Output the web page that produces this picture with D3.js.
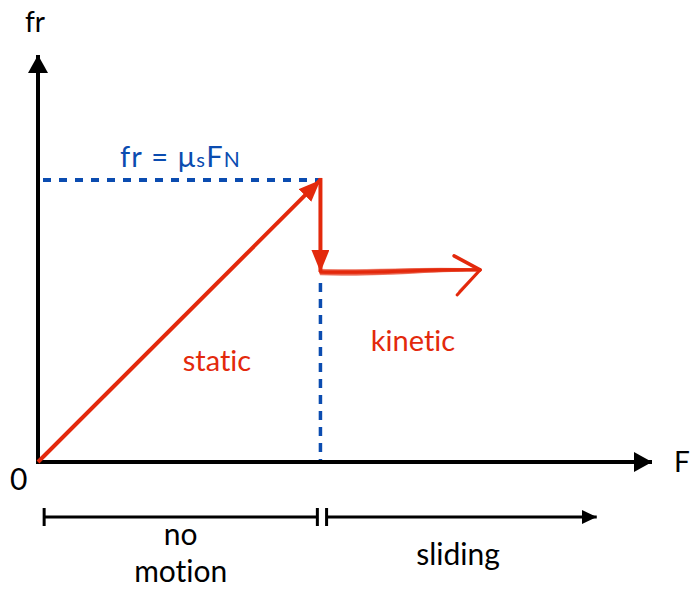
<!DOCTYPE html>
<html>
<head>
<meta charset="utf-8">
<script src="https://cdn.jsdelivr.net/npm/d3@7"></script>
<style>
  html, body { margin: 0; padding: 0; background: #fff; }
  svg { display: block; }
  text { font-family: Lato, "Open Sans", sans-serif; font-variant-ligatures: none; font-feature-settings: "liga" 0, "clig" 0; }
</style>
</head>
<body>
<script>
// ---- data (arbitrary units) ----
const axisMax = { F: 10, fr: 10 };
const staticLine = [[0, 0], [4.6, 6.93]];          // fr = F until the static limit
const staticLimit = [4.6, 6.93];                     // fr = mu_s * F_N
const kineticLevel = [[4.6, 4.67], [7.2, 4.72]];     // kinetic friction (sliding)
const ranges = [
  { label: ["no", "motion"], from: 0.1, to: 4.55 },
  { label: ["sliding"], from: 4.7, to: 9.1 }
];
const labels = {
  yAxis: "fr", xAxis: "F", origin: "0",
  staticText: "static", kineticText: "kinetic"
};

const W = 691, H = 591;
const red = "#e3290c", blue = "#0b4cb0";

const x = d3.scaleLinear().domain([0, axisMax.F]).range([38, 652]);
const y = d3.scaleLinear().domain([0, axisMax.fr]).range([462, 55]);

const svg = d3.select("body").append("svg").attr("width", W).attr("height", H);
const defs = svg.append("defs");
function marker(id, color, w, h) {
  defs.append("marker").attr("id", id)
    .attr("viewBox", `0 0 ${w} ${h}`).attr("refX", w).attr("refY", h / 2)
    .attr("markerWidth", w).attr("markerHeight", h).attr("markerUnits", "userSpaceOnUse")
    .attr("orient", "auto")
    .append("path").attr("d", `M0,0L${w},${h/2}L0,${h}Z`).attr("fill", color);
}
marker("axArrow", "#000", 18, 20);
marker("redArrow", red, 22, 18);
marker("rangeArrow", "#000", 15, 14);

// axes
svg.append("line").attr("x1", x(0)).attr("y1", y(0)).attr("x2", x(0)).attr("y2", y(axisMax.fr))
  .attr("stroke", "#000").attr("stroke-width", 4).attr("marker-end", "url(#axArrow)");
svg.append("line").attr("x1", x(0) - 2).attr("y1", y(0)).attr("x2", x(axisMax.F)).attr("y2", y(0))
  .attr("stroke", "#000").attr("stroke-width", 4).attr("marker-end", "url(#axArrow)");

// blue dashed guides
svg.append("line").attr("x1", x(0) + 5).attr("y1", y(staticLimit[1])).attr("x2", x(staticLimit[0])).attr("y2", y(staticLimit[1]))
  .attr("stroke", blue).attr("stroke-width", 4).attr("stroke-dasharray", "8,8");
svg.append("line").attr("x1", x(staticLimit[0])).attr("y1", y(kineticLevel[0][1]) + 11)
  .attr("x2", x(staticLimit[0])).attr("y2", y(0) - 2)
  .attr("stroke", blue).attr("stroke-width", 3.5).attr("stroke-dasharray", "9,7");

// static red line
svg.append("line").attr("x1", x(staticLine[0][0])).attr("y1", y(staticLine[0][1]))
  .attr("x2", x(staticLine[1][0])).attr("y2", y(staticLine[1][1]))
  .attr("stroke", red).attr("stroke-width", 4).attr("marker-end", "url(#redArrow)");
// drop arrow
svg.append("line").attr("x1", x(staticLimit[0])).attr("y1", y(staticLimit[1]) - 2)
  .attr("x2", x(staticLimit[0])).attr("y2", y(kineticLevel[0][1]))
  .attr("stroke", red).attr("stroke-width", 4).attr("marker-end", "url(#redArrow)");

// sketchy kinetic arrow
const k0 = [x(kineticLevel[0][0]), y(kineticLevel[0][1])];
const k1 = [x(kineticLevel[1][0]), y(kineticLevel[1][1])];
const strokes = [
  { dy: 0, w: 3, o: 1 }, { dy: -1.5, w: 2, o: 0.8 }, { dy: 1.5, w: 2, o: 0.8 },
  { dy: 2.8, w: 1.2, o: 0.6 }, { dy: -2.6, w: 1.2, o: 0.5 }
];
const sk = svg.append("g").attr("stroke", red).attr("fill", "none").attr("stroke-linecap", "round");
strokes.forEach((s, i) => {
  sk.append("path")
    .attr("d", `M${k0[0]},${k0[1] + s.dy}C${k0[0] + 50},${k0[1] + s.dy + 2} ${k1[0] - 60},${k1[1] + s.dy - 1} ${k1[0]},${k1[1] + s.dy * 0.3}`)
    .attr("stroke-width", s.w).attr("opacity", s.o);
});
sk.append("path").attr("d", `M${k1[0] - 26},${k1[1] - 14}L${k1[0]},${k1[1]}`).attr("stroke-width", 3.5);
sk.append("path").attr("d", `M${k1[0]},${k1[1]}L${k1[0] - 23},${k1[1] + 25}`).attr("stroke-width", 3);
sk.append("path").attr("d", `M${k1[0] - 2},${k1[1] + 1}L${k1[0] - 21},${k1[1] + 21}`).attr("stroke-width", 1.5).attr("opacity", 0.6);

// text labels
svg.append("text").attr("x", 25).attr("y", 32).attr("font-size", 28).text(labels.yAxis);
svg.append("text").attr("x", 674).attr("y", 472).attr("font-size", 28).text(labels.xAxis);
svg.append("text").attr("x", 10).attr("y", 490).attr("font-size", 30).text(labels.origin);

const eq = svg.append("text").attr("x", 120).attr("y", 167).attr("font-size", 29)
  .attr("letter-spacing", 1.2).attr("fill", blue);
eq.append("tspan").text("fr = μ");
eq.append("tspan").attr("font-size", 20).text("s");
eq.append("tspan").text("F");
eq.append("tspan").attr("font-size", 21).text("N");

svg.append("text").attr("x", 217).attr("y", 371).attr("text-anchor", "middle").attr("font-size", 29)
  .attr("fill", red).text(labels.staticText);
svg.append("text").attr("x", 413).attr("y", 351).attr("text-anchor", "middle").attr("font-size", 29)
  .attr("fill", red).text(labels.kineticText);

// bottom ranges
const ry = 517;
ranges.forEach((r, i) => {
  const g = svg.append("g").attr("stroke", "#000");
  const x1 = x(r.from), x2 = x(r.to);
  g.append("line").attr("x1", x1).attr("y1", ry - 9).attr("x2", x1).attr("y2", ry + 9).attr("stroke-width", 3);
  if (i === 0) {
    g.append("line").attr("x1", x1).attr("y1", ry).attr("x2", x2).attr("y2", ry).attr("stroke-width", 3);
    g.append("line").attr("x1", x2).attr("y1", ry - 9).attr("x2", x2).attr("y2", ry + 9).attr("stroke-width", 3);
  } else {
    g.append("line").attr("x1", x1).attr("y1", ry).attr("x2", x2).attr("y2", ry).attr("stroke-width", 3)
      .attr("marker-end", "url(#rangeArrow)");
  }
  const cx = i === 0 ? (x1 + x2) / 2 : 458;
  const baseY = i === 0 ? 545 : 565;
  r.label.forEach((t, j) => {
    svg.append("text").attr("x", cx).attr("y", baseY + j * 37).attr("text-anchor", "middle")
      .attr("font-size", 30).text(t);
  });
});
</script>
</body>
</html>
